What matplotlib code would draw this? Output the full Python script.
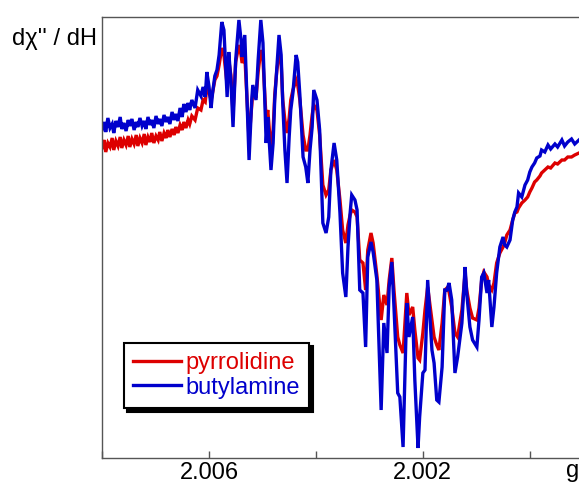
import matplotlib
matplotlib.use("Agg")
import matplotlib.pyplot as plt

plt.rcParams['font.family'] = ['Liberation Sans', 'DejaVu Sans']

# g-values (abscissa) shared by both spectra
g = [2.00800, 2.00796, 2.00793, 2.00789, 2.00785, 2.00781, 2.00778, 2.00774, 2.00770, 2.00766,
     2.00763, 2.00759, 2.00755, 2.00751, 2.00748, 2.00744, 2.00740, 2.00736, 2.00733, 2.00729,
     2.00725, 2.00721, 2.00718, 2.00714, 2.00710, 2.00707, 2.00703, 2.00699, 2.00695, 2.00692,
     2.00688, 2.00684, 2.00680, 2.00677, 2.00673, 2.00669, 2.00665, 2.00662, 2.00658, 2.00654,
     2.00650, 2.00647, 2.00643, 2.00639, 2.00636, 2.00632, 2.00626, 2.00621, 2.00615, 2.00611,
     2.00607, 2.00604, 2.00600, 2.00596, 2.00593, 2.00589, 2.00585, 2.00581, 2.00576, 2.00572,
     2.00566, 2.00563, 2.00559, 2.00555, 2.00550, 2.00544, 2.00540, 2.00538, 2.00533, 2.00525,
     2.00520, 2.00518, 2.00512, 2.00508, 2.00503, 2.00499, 2.00493, 2.00490, 2.00484, 2.00480,
     2.00477, 2.00473, 2.00469, 2.00465, 2.00462, 2.00458, 2.00454, 2.00450, 2.00447, 2.00443,
     2.00437, 2.00434, 2.00430, 2.00424, 2.00419, 2.00415, 2.00411, 2.00407, 2.00404, 2.00398,
     2.00393, 2.00387, 2.00381, 2.00376, 2.00372, 2.00366, 2.00361, 2.00355, 2.00350, 2.00344,
     2.00340, 2.00336, 2.00333, 2.00327, 2.00323, 2.00318, 2.00312, 2.00307, 2.00303, 2.00297,
     2.00293, 2.00286, 2.00278, 2.00273, 2.00267, 2.00263, 2.00258, 2.00254, 2.00247, 2.00243,
     2.00237, 2.00230, 2.00226, 2.00219, 2.00215, 2.00209, 2.00206, 2.00200, 2.00196, 2.00191,
     2.00183, 2.00179, 2.00174, 2.00170, 2.00164, 2.00159, 2.00155, 2.00151, 2.00146, 2.00140,
     2.00135, 2.00127, 2.00121, 2.00118, 2.00112, 2.00107, 2.00099, 2.00095, 2.00090, 2.00086,
     2.00080, 2.00077, 2.00071, 2.00067, 2.00062, 2.00056, 2.00050, 2.00047, 2.00043, 2.00037,
     2.00032, 2.00028, 2.00024, 2.00021, 2.00015, 2.00009, 2.00004, 2.00000, 1.99996, 1.99991,
     1.99987, 1.99981, 1.99978, 1.99972, 1.99966, 1.99961, 1.99953, 1.99948, 1.99940, 1.99935,
     1.99929, 1.99922, 1.99916, 1.99908]

# derivative signal, arbitrary units
pyrrolidine = [-148, -140, -152, -143, -147, -138, -150, -141, -146, -137,
               -148, -140, -145, -136, -147, -139, -144, -135, -146, -138,
               -143, -134, -145, -137, -142, -133, -143, -136, -140, -132,
               -141, -133, -138, -130, -137, -129, -135, -127, -133, -125,
               -130, -122, -128, -120, -124, -116, -120, -108, -110, -100,
               -102, -88, -92, -100, -92, -80, -76, -65, -48, -55,
               -85, -60, -75, -113, -62, -45, -55, -63, -55, -140,
               -105, -92, -98, -72, -50, -60, -120, -110, -150, -130,
               -95, -70, -55, -62, -100, -120, -133, -118, -100, -90,
               -80, -85, -100, -135, -150, -150, -135, -115, -105, -110,
               -135, -185, -195, -190, -170, -160, -170, -200, -230, -243,
               -225, -215, -210, -212, -217, -260, -263, -290, -250, -233,
               -243, -275, -320, -295, -305, -280, -258, -290, -337, -345,
               -353, -293, -315, -307, -330, -358, -360, -333, -310, -287,
               -320, -337, -345, -350, -323, -290, -288, -292, -307, -333,
               -337, -310, -273, -290, -308, -318, -320, -308, -280, -272,
               -277, -285, -290, -283, -263, -253, -247, -243, -235, -230,
               -220, -213, -212, -208, -203, -200, -197, -192, -188, -182,
               -180, -176, -173, -170, -167, -168, -163, -164, -160, -160,
               -157, -157, -155, -153]

butylamine = [-130, -122, -132, -118, -128, -124, -133, -121, -127, -117,
              -129, -123, -131, -120, -126, -119, -130, -122, -127, -118,
              -126, -121, -129, -117, -125, -120, -128, -116, -124, -119,
              -126, -115, -122, -117, -124, -112, -120, -114, -121, -108,
              -117, -104, -112, -103, -110, -100, -108, -90, -96, -87,
              -97, -72, -86, -108, -92, -76, -70, -55, -22, -30,
              -97, -52, -80, -127, -60, -20, -40, -57, -35, -160,
              -100, -85, -100, -60, -20, -43, -143, -117, -170, -143,
              -100, -67, -35, -55, -103, -150, -183, -137, -110, -93,
              -55, -62, -95, -157, -167, -183, -150, -127, -90, -100,
              -130, -223, -233, -217, -170, -143, -160, -213, -273, -297,
              -247, -213, -195, -200, -210, -290, -293, -347, -257, -242,
              -252, -280, -410, -323, -353, -287, -262, -307, -393, -397,
              -447, -303, -337, -317, -380, -448, -417, -373, -370, -280,
              -350, -363, -400, -402, -367, -290, -290, -283, -300, -373,
              -357, -323, -267, -293, -327, -340, -347, -320, -277, -273,
              -293, -280, -327, -307, -273, -247, -237, -245, -247, -240,
              -220, -212, -207, -193, -197, -185, -180, -172, -167, -163,
              -158, -156, -150, -152, -145, -149, -144, -147, -140, -146,
              -142, -139, -144, -140]

series_names = ['pyrrolidine', 'butylamine']
series_colors = ['#dd0000', '#0000cc']

tick_values = [2.008, 2.006, 2.004, 2.002, 2.000]
tick_labels = ['', '2.006', '', '2.002', '']

W, H = 579, 484
fig = plt.figure(figsize=(W / 100, H / 100), dpi=100)
ax = fig.add_axes([102 / W, (H - 458) / H, 1 - 102 / W, (458 - 17) / H])

for vals, name, col in zip([pyrrolidine, butylamine], series_names, series_colors):
    ax.plot(g, vals, color=col, lw=2.4, label=name, solid_joinstyle='miter')

ax.set_xlim(2.008, 1.99908)
ax.set_ylim(-458, -17)
ax.set_xticks(tick_values)
ax.set_xticklabels(tick_labels)
ax.set_yticks([])
ax.tick_params(axis='x', direction='in', length=5, width=1, color='#555555',
               labelsize=17, pad=3)
for side in ['left', 'top', 'bottom']:
    ax.spines[side].set_color('#555555')
    ax.spines[side].set_linewidth(1.0)
ax.spines['right'].set_visible(False)

leg = ax.legend(loc='lower left', bbox_to_anchor=(0.046, 0.113), borderaxespad=0,
                fontsize=17, labelcolor='linecolor', fancybox=False,
                shadow={'color': 'black', 'alpha': 1.0, 'ox': 2.5, 'oy': -2.5},
                handlelength=2.0, handletextpad=0.2, labelspacing=0.1,
                borderpad=0.4, framealpha=1)
leg.get_frame().set_edgecolor('black')
leg.get_frame().set_linewidth(1.5)

fig.text(97 / W, (H - 39) / H, "d\u03c7'' / dH", ha='right', va='center', fontsize=17)
fig.text(566 / W, (H - 471) / H, 'g', ha='left', va='center', fontsize=17)

fig.savefig('out.png', dpi=100)
